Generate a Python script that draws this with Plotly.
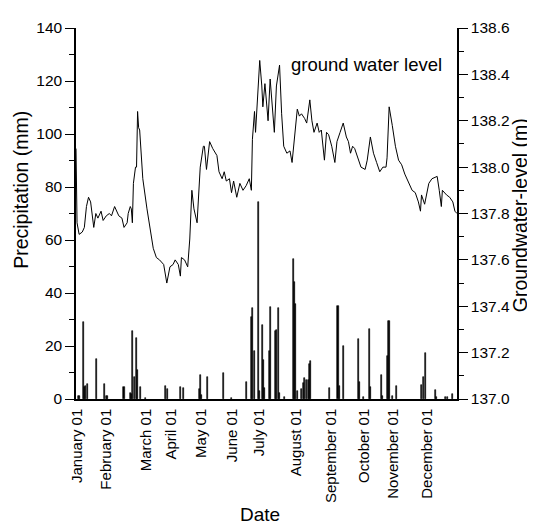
import plotly.graph_objects as go

# Groundwater level (m): (day of year, level); day 0 = Jan 1
gw_series = [
    (0, 138.08), (1, 137.76), (3, 137.71), (6, 137.72), (8, 137.74), (10, 137.83), (12, 137.87),
    (14, 137.85), (17, 137.74), (19, 137.80), (21, 137.78), (24, 137.81), (26, 137.77), (29, 137.79),
    (32, 137.80), (34, 137.79), (37, 137.83), (41, 137.79), (44, 137.78), (46, 137.74), (49, 137.76),
    (50, 137.80), (52, 137.83), (53, 137.82), (54, 137.76), (55, 137.93), (57, 138.00), (58, 138.00),
    (59, 138.24), (60, 138.17), (61, 138.16), (62, 138.07), (64, 137.95), (68, 137.82), (71, 137.74),
    (74, 137.65), (77, 137.61), (80, 137.60), (84, 137.58), (87, 137.50), (90, 137.57), (93, 137.58),
    (95, 137.60), (98, 137.58), (100, 137.53), (101, 137.61), (104, 137.60), (107, 137.57), (109, 137.69),
    (111, 137.90), (113, 137.82), (116, 137.76), (119, 138.00), (122, 138.09), (123, 138.09), (125, 137.99),
    (128, 138.11), (131, 138.08), (135, 138.05), (137, 137.98), (140, 137.95), (142, 137.98), (144, 137.94),
    (147, 137.95), (149, 137.89), (151, 137.94), (154, 137.87), (157, 137.93), (160, 137.90), (163, 137.92),
    (166, 137.95), (168, 137.90), (169, 138.12), (171, 138.24), (172, 138.15), (176, 138.46), (178, 138.35),
    (179, 138.26), (181, 138.36), (184, 138.20), (186, 138.38), (190, 138.15), (192, 138.35), (195, 138.44),
    (197, 138.23), (199, 138.09), (202, 138.06), (205, 138.07), (207, 138.02), (210, 138.16), (212, 138.25),
    (214, 138.22), (216, 138.23), (219, 138.21), (221, 138.19), (224, 138.29), (226, 138.20), (228, 138.15),
    (231, 138.19), (233, 138.15), (235, 138.16), (238, 138.03), (240, 138.15), (242, 138.14), (245, 138.09),
    (248, 138.02), (250, 138.11), (253, 138.15), (256, 138.19), (259, 138.13), (261, 138.11), (263, 138.06),
    (265, 138.09), (267, 138.08), (270, 138.04), (273, 138.00), (277, 137.99), (279, 138.03), (282, 138.13),
    (285, 138.06), (288, 138.02), (291, 137.98), (294, 138.00), (297, 138.00), (298, 138.04), (300, 138.26),
    (303, 138.18), (306, 138.09), (309, 138.03), (312, 138.01), (315, 137.97), (318, 137.94), (322, 137.90),
    (325, 137.89), (328, 137.85), (330, 137.81), (331, 137.88), (334, 137.84), (338, 137.93), (341, 137.95),
    (346, 137.96), (348, 137.90), (350, 137.83), (351, 137.90), (355, 137.88), (358, 137.87), (361, 137.85),
    (363, 137.81), (365, 137.80),
]
gw_day = [d for d, _ in gw_series]
gw_level = [v for _, v in gw_series]

# Daily precipitation (mm)
rain_day = [2, 3, 7, 8, 9, 11, 20, 27, 29, 30, 46, 52, 53, 54, 56, 58, 59, 62, 67,
            86, 88, 100, 103, 118, 119, 120, 126, 141, 149, 163, 168, 169, 171, 175, 176,
            179, 180, 181, 185, 186, 191, 192, 194, 195, 200, 208, 209, 210, 212, 216, 218,
            219, 221, 223, 224, 225, 243, 251, 252, 256, 271, 272, 275, 281, 282, 293, 294,
            298, 299, 300, 303, 307, 331, 333, 335, 344, 345, 354, 356, 361]
rain_mm = [1.3, 1.3, 29, 4.7, 5, 5.7, 15.2, 5.6, 1.3, 1.0, 4.7, 2.3, 2.0, 25.6, 8.4, 23.2, 11.1, 4.4, 0.4,
           5, 3.7, 4.5, 4.1, 3.7, 9, 1.7, 8.4, 10, 0.4, 6.4, 31, 34.5, 18.3, 74.5, 3,
           28.1, 14.6, 4.1, 18.3, 34.9, 25.6, 26, 34.5, 2.3, 0.8, 52.9, 44, 36, 2.9, 3.7, 6,
           7.8, 7, 7.2, 13.3, 14.5, 4.1, 35.1, 5, 20.1, 22.6, 6.6, 0.7, 26.6, 4.7, 9, 1,
           16.4, 29.6, 29.6, 1, 5, 5.3, 8.4, 17.3, 3.3, 0.8, 0.6, 0.6, 2]

month_ticks = [1, 28.7, 67.1, 91, 120.2, 149.4, 175.3, 210.5, 244, 276, 303.8, 336.3]
month_labels = ["January 01", "February 01", "March 01", "April 01", "May 01", "June 01",
                "July 01", "August 01", "September 01", "October 01", "November 01", "December 01"]

FONT = "Liberation Sans, Arial, sans-serif"

fig = go.Figure()
fig.add_trace(go.Bar(x=rain_day, y=rain_mm, width=1.0,
                     marker=dict(color="black", line=dict(color="black", width=0.6)),
                     yaxis="y", showlegend=False))
fig.add_trace(go.Scatter(x=gw_day, y=gw_level, mode="lines",
                         line=dict(color="black", width=1),
                         yaxis="y2", showlegend=False))

fig.update_layout(
    width=527, height=518, autosize=False,
    margin=dict(l=68, r=78, t=11, b=127),
    paper_bgcolor="white", plot_bgcolor="white",
    font=dict(family=FONT, color="black"),
    bargap=0,
    xaxis=dict(range=[0, 365], showgrid=False, zeroline=False,
               showline=True, linecolor="black", linewidth=1.5,
               tickmode="array", tickvals=month_ticks, ticktext=month_labels,
               tickangle=-90, ticks="outside", ticklen=2, tickcolor="rgba(0,0,0,0)",
               tickfont=dict(size=15, family=FONT)),
    yaxis=dict(range=[0, 140], dtick=20, showgrid=False, zeroline=False,
               showline=True, linecolor="black", linewidth=1.5,
               ticks="outside", ticklen=9, tickwidth=1.2, tickcolor="black",
               minor=dict(dtick=10, ticks="outside", ticklen=5, tickwidth=1, tickcolor="black"),
               tickfont=dict(size=15.5, family=FONT)),
    yaxis2=dict(range=[137.0, 138.6], dtick=0.2, tickformat=".1f", overlaying="y", side="right",
                showgrid=False, zeroline=False,
                showline=True, linecolor="black", linewidth=1.5,
                ticks="outside", ticklen=9, tickwidth=1.2, tickcolor="black",
                minor=dict(dtick=0.1, ticks="outside", ticklen=5, tickwidth=1, tickcolor="black"),
                tickfont=dict(size=15.5, family=FONT)),
    annotations=[
        dict(text="Precipitation (mm)", xref="paper", yref="paper", x=-0.1444, y=0.5637,
             textangle=-90, showarrow=False, font=dict(size=19.5, family=FONT),
             xanchor="center", yanchor="middle"),
        dict(text="Groundwater-level (m)", xref="paper", yref="paper", x=1.1654, y=0.4954,
             textangle=-90, showarrow=False, font=dict(size=19.5, family=FONT),
             xanchor="center", yanchor="middle"),
        dict(text="Date", xref="paper", yref="paper", x=0.483, y=-0.3114,
             showarrow=False, font=dict(size=19, family=FONT),
             xanchor="center", yanchor="middle"),
        dict(text="ground water level", xref="paper", yref="paper", x=0.559, y=0.9025,
             showarrow=False, font=dict(size=18.5, family=FONT),
             xanchor="left", yanchor="middle"),
    ],
)

fig.write_html("out.html")
